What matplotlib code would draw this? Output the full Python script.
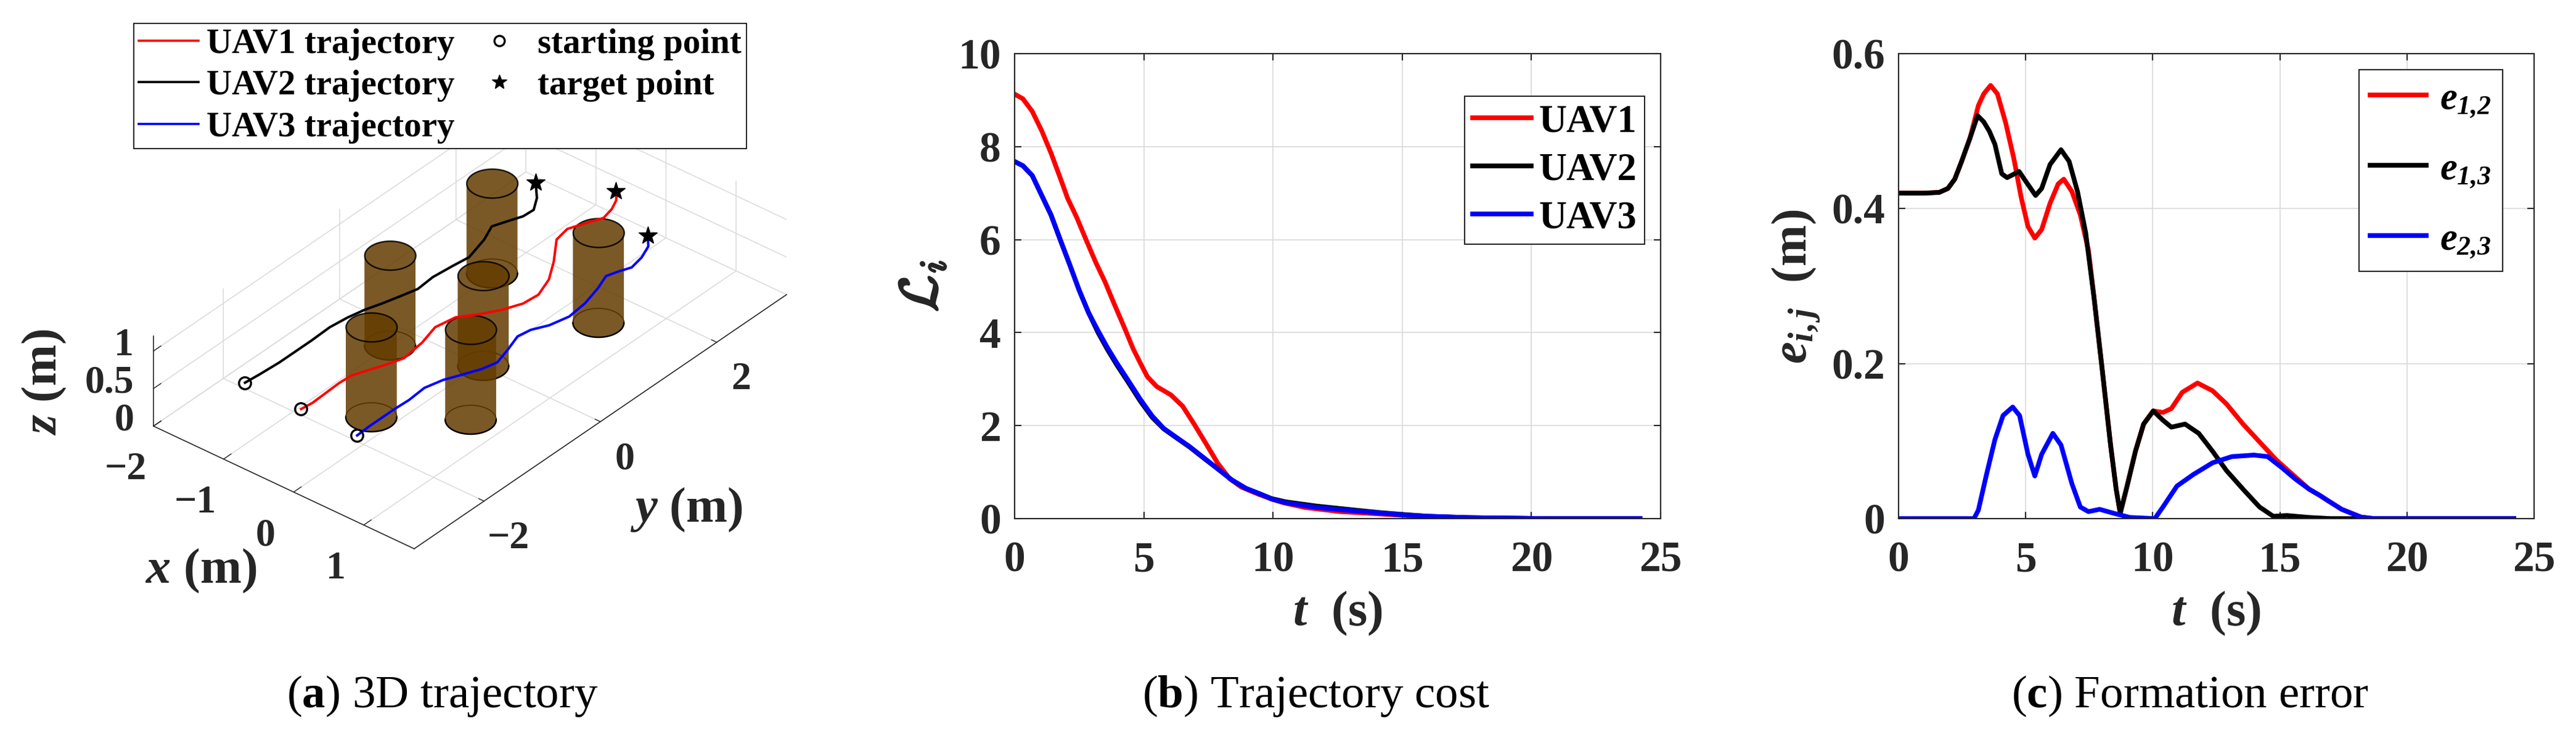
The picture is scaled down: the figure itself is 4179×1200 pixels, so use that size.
import numpy as np
import matplotlib
matplotlib.use("Agg")
import matplotlib.pyplot as plt
import matplotlib.patheffects as pe
from matplotlib.lines import Line2D
from mpl_toolkits.mplot3d.art3d import Poly3DCollection

# ---------------- data: (a) 3D trajectory ----------------
x_lim = [-2.0, 1.72]
y_lim = [-3.2, 3.2]
z_lim = [0.0, 1.2]

cyl_x = [-1.03, -1.00, 0.04, -0.27, 0.60, 0.48]
cyl_y = [1.45, -0.34, 0.01, -1.54, -0.88, 1.46]
cyl_r = 0.28
cyl_h = 1.2
flight_z = 0.5

uav1_x = [-0.50, -0.48, -0.49, -0.50, -0.49, -0.41, -0.33, -0.26, -0.30, -0.38, -0.33, -0.17, -0.03,
          0.07, 0.09, -0.01, -0.19, -0.44, -0.48, -0.40, -0.31, -0.35, -0.42, -0.50, -0.54]
uav1_y = [-2.47, -2.30, -2.06, -1.82, -1.62, -1.41, -1.21, -0.99, -0.63, -0.31, -0.02, 0.19, 0.42,
          0.66, 0.90, 1.20, 1.50, 1.85, 2.08, 2.29, 2.50, 2.69, 2.85, 2.95, 2.99]
uav2_x = [-1.30, -1.28, -1.26, -1.26, -1.26, -1.27, -1.24, -1.19, -1.12, -1.06, -1.00, -1.02, -0.99,
          -0.96, -1.05, -1.15, -1.08, -1.01, -1.00, -1.12, -1.22, -1.32]
uav2_y = [-2.47, -2.25, -1.93, -1.59, -1.37, -1.05, -0.78, -0.54, -0.32, -0.10, 0.14, 0.42, 0.73,
          0.97, 1.34, 1.59, 1.78, 1.96, 2.13, 2.33, 2.44, 2.55]
uav3_x = [0.30, 0.29, 0.29, 0.29, 0.30, 0.28, 0.34, 0.43, 0.53, 0.58, 0.51, 0.43, 0.46, 0.56, 0.62,
          0.59, 0.51, 0.43, 0.48, 0.54, 0.50, 0.42, 0.28]
uav3_y = [-2.47, -2.25, -2.02, -1.80, -1.58, -1.29, -1.04, -0.84, -0.61, -0.40, -0.13, 0.13, 0.32,
          0.52, 0.79, 1.10, 1.42, 1.65, 1.81, 1.96, 2.18, 2.39, 2.55]

# ---------------- data: (b) trajectory cost ----------------
t_cost1 = [0, 0.32, 0.68, 1.05, 1.41, 1.77, 2.05, 2.41, 2.77, 3.14, 3.5, 3.86, 4.23, 4.59, 4.86, 5.14,
           5.5, 6.05, 6.5, 6.95, 7.41, 7.86, 8.32, 8.77, 9.41, 9.95, 10.41, 11.23, 12.59, 14.12, 15.0,
           16.0, 17.6, 19.0, 20.5, 24.2]
cost1 = [9.13, 9.03, 8.76, 8.34, 7.86, 7.32, 6.89, 6.47, 5.99, 5.51, 5.09, 4.61, 4.13, 3.65, 3.35, 3.05,
         2.84, 2.66, 2.42, 2.03, 1.61, 1.19, 0.86, 0.68, 0.53, 0.42, 0.34, 0.24, 0.15, 0.10, 0.07,
         0.04, 0.02, 0.01, 0.0, 0.0]
t_cost23 = [0, 0.32, 0.68, 1.05, 1.41, 1.77, 2.14, 2.5, 2.86, 3.23, 3.59, 3.95, 4.41, 4.86, 5.32, 5.77,
            6.23, 6.77, 7.32, 7.86, 8.41, 8.95, 9.5, 9.95, 10.5, 11.68, 13.05, 14.12, 15.0, 16.0, 17.6,
            19.0, 20.5, 24.2]
cost2 = [7.68, 7.59, 7.38, 6.95, 6.53, 5.99, 5.45, 4.91, 4.43, 4.00, 3.64, 3.31, 2.92, 2.53, 2.18, 1.93,
         1.75, 1.54, 1.30, 1.07, 0.83, 0.65, 0.53, 0.43, 0.36, 0.27, 0.19, 0.13, 0.09, 0.05, 0.02,
         0.01, 0.0, 0.0]
cost3 = [7.68, 7.59, 7.38, 6.95, 6.53, 5.99, 5.45, 4.91, 4.43, 4.04, 3.68, 3.35, 2.96, 2.57, 2.21, 1.94,
         1.76, 1.55, 1.31, 1.07, 0.83, 0.65, 0.53, 0.42, 0.34, 0.24, 0.17, 0.12, 0.08, 0.05, 0.02,
         0.01, 0.0, 0.0]

# ---------------- data: (c) formation error ----------------
t_e12 = [0, 1.0, 1.6, 1.94, 2.21, 2.48, 2.81, 3.14, 3.35, 3.62, 3.89, 4.22, 4.54, 4.82, 5.09, 5.36,
         5.63, 5.96, 6.28, 6.5, 6.82, 7.15, 7.47, 7.69, 8.02, 8.34, 8.56, 8.72, 8.99, 9.32, 9.64,
         10.02, 10.4, 10.73, 11.16, 11.76, 12.35, 12.9, 13.55, 14.2, 14.85, 15.5, 16.15, 16.57, 16.9,
         17.43, 18.19, 18.7, 24.2]
e12 = [0.42, 0.42, 0.421, 0.426, 0.438, 0.461, 0.491, 0.533, 0.548, 0.559, 0.548, 0.51, 0.464, 0.415,
       0.377, 0.362, 0.373, 0.407, 0.432, 0.438, 0.422, 0.392, 0.346, 0.285, 0.19, 0.095, 0.038, 0.007,
       0.042, 0.087, 0.122, 0.139, 0.137, 0.142, 0.163, 0.175, 0.165, 0.148, 0.122, 0.099, 0.076,
       0.057, 0.038, 0.030, 0.023, 0.012, 0.002, 0.0, 0.0]
t_e13 = [0, 1.0, 1.6, 1.94, 2.21, 2.48, 2.81, 3.11, 3.35, 3.57, 3.79, 4.06, 4.27, 4.74, 5.03, 5.39,
         5.63, 5.96, 6.39, 6.71, 7.04, 7.36, 7.69, 8.02, 8.34, 8.56, 8.72, 8.99, 9.32, 9.64, 10.02,
         10.4, 10.73, 11.27, 11.81, 12.35, 12.9, 13.55, 14.2, 14.74, 15.28, 16.15, 17.0, 24.2]
e13 = [0.42, 0.42, 0.421, 0.426, 0.438, 0.461, 0.491, 0.520, 0.512, 0.50, 0.483, 0.445, 0.44, 0.448,
       0.434, 0.417, 0.426, 0.457, 0.476, 0.461, 0.422, 0.369, 0.285, 0.19, 0.095, 0.038, 0.007,
       0.042, 0.087, 0.122, 0.139, 0.127, 0.118, 0.122, 0.110, 0.087, 0.062, 0.038, 0.015, 0.003,
       0.004, 0.0015, 0.0, 0.0]
t_e23 = [0, 2.97, 3.14, 3.46, 3.79, 4.11, 4.49, 4.76, 5.09, 5.36, 5.63, 6.07, 6.39, 6.82, 7.15, 7.47,
         7.91, 8.45, 9.1, 10.08, 10.4, 10.95, 11.6, 12.35, 13.11, 13.98, 14.52, 15.07, 15.61, 16.15,
         16.57, 16.9, 17.43, 18.19, 18.7, 24.2]
e23 = [0, 0, 0.011, 0.057, 0.102, 0.133, 0.144, 0.133, 0.083, 0.055, 0.083, 0.11, 0.095, 0.045, 0.015,
       0.009, 0.012, 0.007, 0.0015, 0.0, 0.015, 0.042, 0.057, 0.072, 0.080, 0.082, 0.080, 0.066,
       0.051, 0.038, 0.030, 0.023, 0.012, 0.002, 0.0, 0.0]

W, H = 4179, 1200
DARK = "#262626"
BROWN = "#643c00"

plt.rcParams.update({
    "font.family": ["Liberation Serif", "DejaVu Serif"],
    "font.weight": "bold",
    "axes.labelweight": "bold",
    "mathtext.fontset": "custom",
    "mathtext.rm": "Liberation Serif:bold",
    "mathtext.it": "Liberation Serif:bold:italic",
    "mathtext.bf": "Liberation Serif:bold",
    "mathtext.sf": "Liberation Serif:bold:italic",
    "axes.edgecolor": DARK,
    "axes.linewidth": 1.5,
    "xtick.color": DARK,
    "ytick.color": DARK,
    "grid.color": "#dcdcdc",
    "grid.linewidth": 1.3,
})

fig = plt.figure(figsize=(W / 100, H / 100), dpi=100)


def px_rect(left, top, right, bottom):
    return [left / W, 1 - bottom / H, (right - left) / W, (bottom - top) / H]


# ---------------- (a) 3D ----------------
ax3 = fig.add_axes([0.0, 0.0, 0.3, 1.0], projection="3d", computed_zorder=False)
ax3.set_proj_type("ortho")
ax3.view_init(elev=34.5, azim=-50.3)
ax3.set_xlim(x_lim)
ax3.set_ylim(y_lim)
ax3.set_zlim(z_lim)
box = (x_lim[1] - x_lim[0], y_lim[1] - y_lim[0], z_lim[1] - z_lim[0])
ax3.set_box_aspect(box)

for axis in (ax3.xaxis, ax3.yaxis, ax3.zaxis):
    axis.set_pane_color((1, 1, 1, 0))
    axis.pane.set_edgecolor((1, 1, 1, 0))
    axis.line.set_color(DARK)
    axis.line.set_linewidth(1.2)
    axis._axinfo["tick"]["inward_factor"] = 0.0
    axis._axinfo["tick"]["outward_factor"] = 0.25
    axis._axinfo["tick"]["linewidth"] = {True: 1.0, False: 1.0}
    axis._axinfo["grid"]["color"] = "#dcdcdc"
    axis._axinfo["grid"]["linewidth"] = 1.2
ax3.zaxis.set_ticks_position("lower")
ax3.zaxis.set_label_position("lower")
ax3.set_xticks([-2, -1, 0, 1])
ax3.set_yticks([-2, 0, 2])
ax3.set_zticks([0, 0.5, 1])
ax3.set_zticklabels(["0", "0.5", "1"])
ax3.tick_params(axis="x", labelsize=46, pad=26)
ax3.tick_params(axis="y", labelsize=46, pad=34)
ax3.tick_params(axis="z", labelsize=46, pad=6)
plt.setp(ax3.get_zticklabels(), ha="right", va="baseline")

# cylinders, far ones first
view_dir = np.array([np.cos(np.radians(-50.3)), np.sin(np.radians(-50.3))])
order = np.argsort([view_dir[0] * cx + view_dir[1] * cy for cx, cy in zip(cyl_x, cyl_y)])
th_front = np.radians(-50.3) + np.linspace(-np.pi / 2, np.pi / 2, 60)
th_back = th_front + np.pi
th_full = np.linspace(0, 2 * np.pi, 120)
for k, i in enumerate(order):
    cx, cy = cyl_x[i], cyl_y[i]
    zb = 10 + 5 * k
    bx, by = cx + cyl_r * np.cos(th_back), cy + cyl_r * np.sin(th_back)
    ax3.plot(bx, by, np.zeros_like(bx), color="black", lw=1.3, zorder=zb)
    fx, fy = cx + cyl_r * np.cos(th_front), cy + cyl_r * np.sin(th_front)
    body = list(zip(fx, fy, np.zeros_like(fx))) + list(zip(fx[::-1], fy[::-1], np.full_like(fx, cyl_h)))
    ax3.add_collection3d(Poly3DCollection([body], facecolor=BROWN, alpha=0.85, edgecolor="none",
                                          zorder=zb + 1))
    ax3.plot(fx, fy, np.zeros_like(fx), color="black", lw=1.8, zorder=zb + 2)
    tx, ty = cx + cyl_r * np.cos(th_full), cy + cyl_r * np.sin(th_full)
    top = list(zip(tx, ty, np.full_like(tx, cyl_h)))
    ax3.add_collection3d(Poly3DCollection([top], facecolor=BROWN, alpha=0.85, edgecolor="black",
                                          linewidth=1.8, zorder=zb + 3))

for xs, ys, col in ((uav1_x, uav1_y, "red"), (uav2_x, uav2_y, "black"), (uav3_x, uav3_y, "blue")):
    zs = np.full(len(xs), flight_z)
    ax3.plot(xs, ys, zs, color=col, lw=2.9, zorder=100, solid_joinstyle="round")
    ax3.plot(xs[:1], ys[:1], zs[:1], "o", mfc="none", mec="black", ms=14, mew=2.4, zorder=110)
    ax3.plot(xs[-1:], ys[-1:], zs[-1:], "*", color="black", ms=22, zorder=110)

legend_handles = [
    Line2D([], [], color="red", lw=2.6),
    Line2D([], [], color="black", lw=2.6),
    Line2D([], [], color="blue", lw=2.6),
    Line2D([], [], ls="none", marker="o", mfc="none", mec="black", ms=12, mew=2.4),
    Line2D([], [], ls="none", marker="*", color="black", ms=18),
]
legend_labels = ["UAV1 trajectory", "UAV2 trajectory", "UAV3 trajectory", "starting point", "target point"]
leg_a = fig.legend(legend_handles, legend_labels, ncol=2, loc="upper left",
                   bbox_to_anchor=(217 / W, 1 - 38 / H), borderaxespad=0, fontsize=41,
                   fancybox=False, edgecolor="black", framealpha=1, borderpad=0.14,
                   labelspacing=0.27, handlelength=1.7, handletextpad=0.23, columnspacing=0.43)
leg_a.get_frame().set_linewidth(1.2)

fig.text(326 / W, 1 - 926 / H, "$x$ (m)", fontsize=58, ha="center", va="center", color=DARK)
fig.text(1114 / W, 1 - 827 / H, "$y$ (m)", fontsize=58, ha="center", va="center", color=DARK)
fig.text(72 / W, 1 - 620 / H, "$z$ (m)", fontsize=58, ha="center", va="center", rotation=90,
         color=DARK)


# ---------------- (b) trajectory cost ----------------
def style_2d(ax):
    ax.grid(True)
    ax.tick_params(direction="in", top=True, right=True, length=8, width=1.5, labelsize=50)
    ax.tick_params(axis="x", pad=26)
    ax.tick_params(axis="y", pad=16)
    ax.set_xlim(0, 25)
    ax.set_xticks([0, 5, 10, 15, 20, 25])


ax_b = fig.add_axes(px_rect(1646, 87, 2694, 841))
ax_b.plot(t_cost1, cost1, color="red", lw=5.5, label="UAV1", solid_joinstyle="round")
ax_b.plot(t_cost23, cost2, color="black", lw=5.5, label="UAV2", solid_joinstyle="round")
ax_b.plot(t_cost23, cost3, color="blue", lw=5.5, label="UAV3", solid_joinstyle="round")
style_2d(ax_b)
ax_b.set_ylim(0, 10)
ax_b.set_yticks([0, 2, 4, 6, 8, 10])
ax_b.set_xlabel("$t$  (s)", fontsize=58, color=DARK, va="center")
ax_b.xaxis.set_label_coords(0.5, (841 - 995) / 754)
ax_b.set_ylabel(r"$\mathcal{L}_i$", fontsize=62, color=DARK, va="center", math_fontfamily="cm",
                path_effects=[pe.withStroke(linewidth=2.5, foreground=DARK)])
ax_b.yaxis.set_label_coords((1498 - 1646) / 1048, 0.5)
leg_b = ax_b.legend(loc="upper right", bbox_to_anchor=((2668 - 1646) / 1048, (841 - 156) / 754),
                    borderaxespad=0, fontsize=45, fancybox=False, edgecolor=DARK, framealpha=1,
                    borderpad=0.21, labelspacing=0.32, handlelength=1.52, handletextpad=0.19)
leg_b.get_frame().set_linewidth(1.5)

# ---------------- (c) formation error ----------------
ax_c = fig.add_axes(px_rect(3080, 87, 4111, 841))
ax_c.plot(t_e12, e12, color="red", lw=5.5, label=r"$e_{\mathsf{1{,}2}}$", solid_joinstyle="round")
ax_c.plot(t_e13, e13, color="black", lw=5.5, label=r"$e_{\mathsf{1{,}3}}$", solid_joinstyle="round")
ax_c.plot(t_e23, e23, color="blue", lw=5.5, label=r"$e_{\mathsf{2{,}3}}$", solid_joinstyle="round")
style_2d(ax_c)
ax_c.set_ylim(0, 0.6)
ax_c.set_yticks([0, 0.2, 0.4, 0.6])
ax_c.set_yticklabels(["0", "0.2", "0.4", "0.6"])
ax_c.set_xlabel("$t$  (s)", fontsize=58, color=DARK, va="center")
ax_c.xaxis.set_label_coords(0.5, (841 - 995) / 754)
ax_c.set_ylabel(r"$e_{i,j}$  (m)", fontsize=58, color=DARK, va="center")
ax_c.yaxis.set_label_coords((2914 - 3080) / 1031, 0.5)
leg_c = ax_c.legend(loc="upper right", bbox_to_anchor=((4060 - 3080) / 1031, (841 - 113) / 754),
                    borderaxespad=0, fontsize=45, fancybox=False, edgecolor=DARK, framealpha=1,
                    borderpad=0.3, labelspacing=0.85, handlelength=1.45, handletextpad=0.35)
leg_c.get_frame().set_linewidth(1.5)

# captions
fig.text(718 / W, 1 - 1129 / H, r"($\mathbf{a}$) 3D trajectory", fontsize=54, fontweight="normal",
         ha="center", va="center")
fig.text(2135 / W, 1 - 1129 / H, r"($\mathbf{b}$) Trajectory cost", fontsize=54, fontweight="normal",
         ha="center", va="center")
fig.text(3553 / W, 1 - 1129 / H, r"($\mathbf{c}$) Formation error", fontsize=54, fontweight="normal",
         ha="center", va="center")


# place the 3D box: scale and shift so that its floor corners land where the reference has them
def to_pixels(ax, x, y, z):
    v = ax.get_proj() @ np.array([x, y, z, 1.0])
    return ax.transData.transform((v[0] / v[3], v[1] / v[3]))


fig.canvas.draw()
p0 = to_pixels(ax3, x_lim[0], y_lim[0], 0)
p1 = to_pixels(ax3, x_lim[1], y_lim[1], 0)
c0 = ax3.transData.transform((0, 0))
t0 = np.array([249.0, H - 691.0])
t1 = np.array([1275.0, H - 473.0])
f = np.linalg.norm(t1 - t0) / np.linalg.norm(p1 - p0)
ax3.set_box_aspect(box, zoom=f)
shift = t0 - (c0 + f * (p0 - c0))
pos = ax3.get_position(original=True)
ax3.set_position([pos.x0 + shift[0] / W, pos.y0 + shift[1] / H, pos.width, pos.height])

fig.savefig("out.png", dpi=100)
